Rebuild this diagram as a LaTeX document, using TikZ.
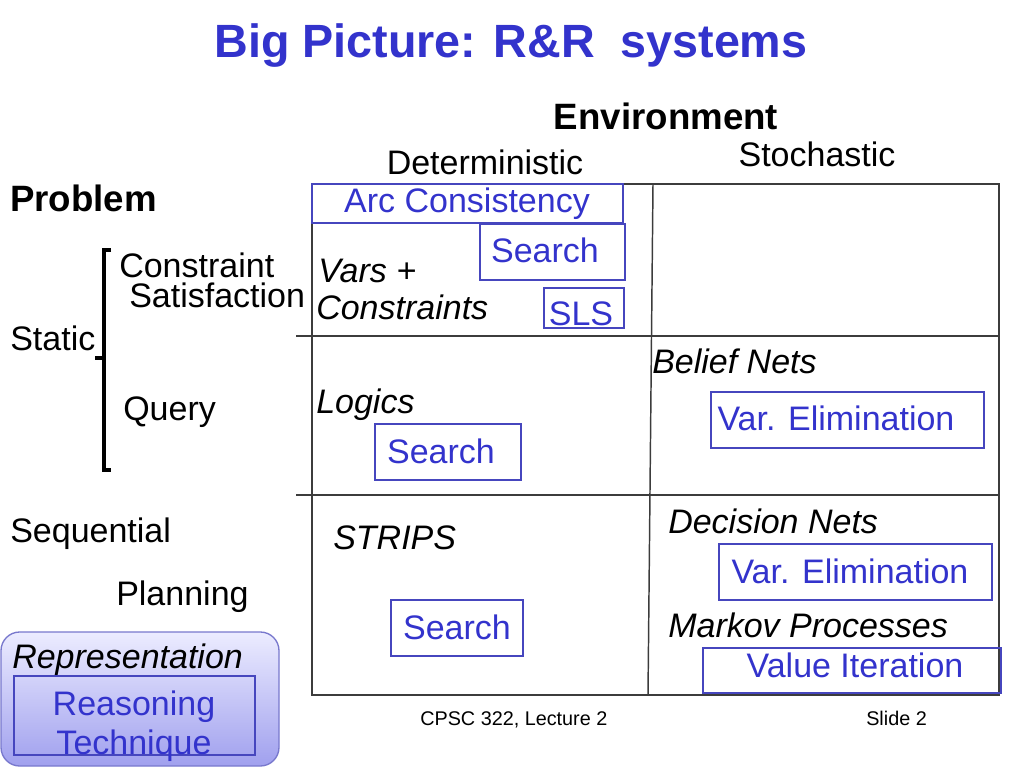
\documentclass[tikz,border=0pt]{standalone}
\usepackage{fontspec}
\setmainfont{Liberation Sans}
\definecolor{ttlblue}{RGB}{51,51,204}
\definecolor{boxblue}{RGB}{70,70,190}
\definecolor{gridgray}{RGB}{60,60,60}
\definecolor{reptop}{RGB}{236,236,255}
\definecolor{repbot}{RGB}{160,160,238}
\definecolor{repedge}{RGB}{120,120,205}
\tikzset{
  body/.style={inner sep=0pt, font=\fontsize{25.5}{30}\selectfont},
  itbody/.style={body, font=\fontsize{25.5}{30}\selectfont\itshape},
  bluetxt/.style={body, text=ttlblue},
  bigbold/.style={inner sep=0pt, font=\fontsize{27.5}{32}\selectfont\bfseries},
  foot/.style={inner sep=0pt, font=\fontsize{14.85}{18}\selectfont},
  bluebox/.style={draw=boxblue, line width=0.9pt},
  gridline/.style={draw=gridgray, line width=1.1pt},
}
\begin{document}
\begin{tikzpicture}[x=0.75pt,y=-0.75pt]
\useasboundingbox (0,0) rectangle (1024,768);
% title
\node[inner sep=0pt, anchor=base, text=ttlblue, font=\fontsize{35}{40}\selectfont\bfseries] (title) at (511,57) {Big Picture: R\&R\ \ systems};
% headers
\node[bigbold, anchor=base] (env) at (666,129) {Environment};
\node[body, anchor=base] (det) at (485,174) {Deterministic};
\node[body, anchor=base] (sto) at (817,166) {Stochastic};
\node[bigbold, anchor=base west] (prob) at (10,211) {Problem};
% left column
\node[body, anchor=base west] (cons) at (119,277) {Constraint};
\node[body, anchor=base west] (sat) at (129,307) {Satisfaction};
\node[body, anchor=base west] (static) at (10,350) {Static};
\node[body, anchor=base west] (query) at (123,420) {Query};
\node[body, anchor=base west] (seq) at (10,542) {Sequential};
\node[body, anchor=base west] (plan) at (116,605) {Planning};
% bracket
\draw[line width=2.6pt, line cap=butt] (111,250) -- (104,250) -- (104,470) -- (111,470);
\draw[line width=2.6pt] (104,358) -- (95,358);
% grid
\draw[gridline] (312,184) rectangle (999,695);
\draw[gridline] (296,336) -- (999,336);
\draw[gridline] (296,495) -- (999,495);
\draw[gridline] (653,184) -- (648,695);
% top-left cell
\draw[bluebox] (312,184) rectangle (623,223);
\node[bluetxt, anchor=base] (arc) at (467,212) {Arc Consistency};
\draw[bluebox] (480,224) rectangle (625,280);
\node[bluetxt, anchor=base] (s1) at (545,262) {Search};
\draw[bluebox] (544,288) rectangle (624,328);
\node[bluetxt, anchor=base] (sls) at (581,325) {SLS};
\node[itbody, anchor=base west] (vars) at (318,282) {Vars +};
\node[itbody, anchor=base west] (constr) at (316,319) {Constraints};
% query row
\node[itbody, anchor=base west] (logics) at (316,413) {Logics};
\draw[bluebox] (375,424) rectangle (521,480);
\node[bluetxt, anchor=base] (s2) at (441,463) {Search};
\node[itbody, anchor=base west] (belief) at (652,373) {Belief Nets};
\draw[bluebox] (711,392) rectangle (984,448);
\node[bluetxt, anchor=base] (ve1) at (836,430) {Var. Elimination};
% planning row
\node[itbody, anchor=base west] (strips) at (333,549) {STRIPS};
\draw[bluebox] (391,600) rectangle (523,656);
\node[bluetxt, anchor=base] (s3) at (457,639) {Search};
\node[itbody, anchor=base west] (dec) at (668,533) {Decision Nets};
\draw[bluebox] (719,544) rectangle (992,600);
\node[bluetxt, anchor=base] (ve2) at (850,583) {Var. Elimination};
\node[itbody, anchor=base west] (markov) at (668,637) {Markov Processes};
\draw[bluebox] (703,648) rectangle (1001,693);
\node[bluetxt, anchor=base] (vi) at (855,677) {Value Iteration};
% representation legend
\shade[top color=reptop, bottom color=repbot, draw=repedge, line width=1pt, rounded corners=14pt] (1,632) rectangle (279,766);
\node[itbody, anchor=base west] (rep) at (12,668) {Representation};
\draw[bluebox] (14,676) rectangle (255,755);
\node[bluetxt, anchor=base] (reas) at (134,715) {Reasoning};
\node[bluetxt, anchor=base] (tech) at (134,754) {Technique};
% footer
\node[foot, anchor=base west] (cpsc) at (420,725) {CPSC 322, Lecture 2};
\node[foot, anchor=base west] (slide) at (866,725) {Slide 2};
\end{tikzpicture}
\end{document}
